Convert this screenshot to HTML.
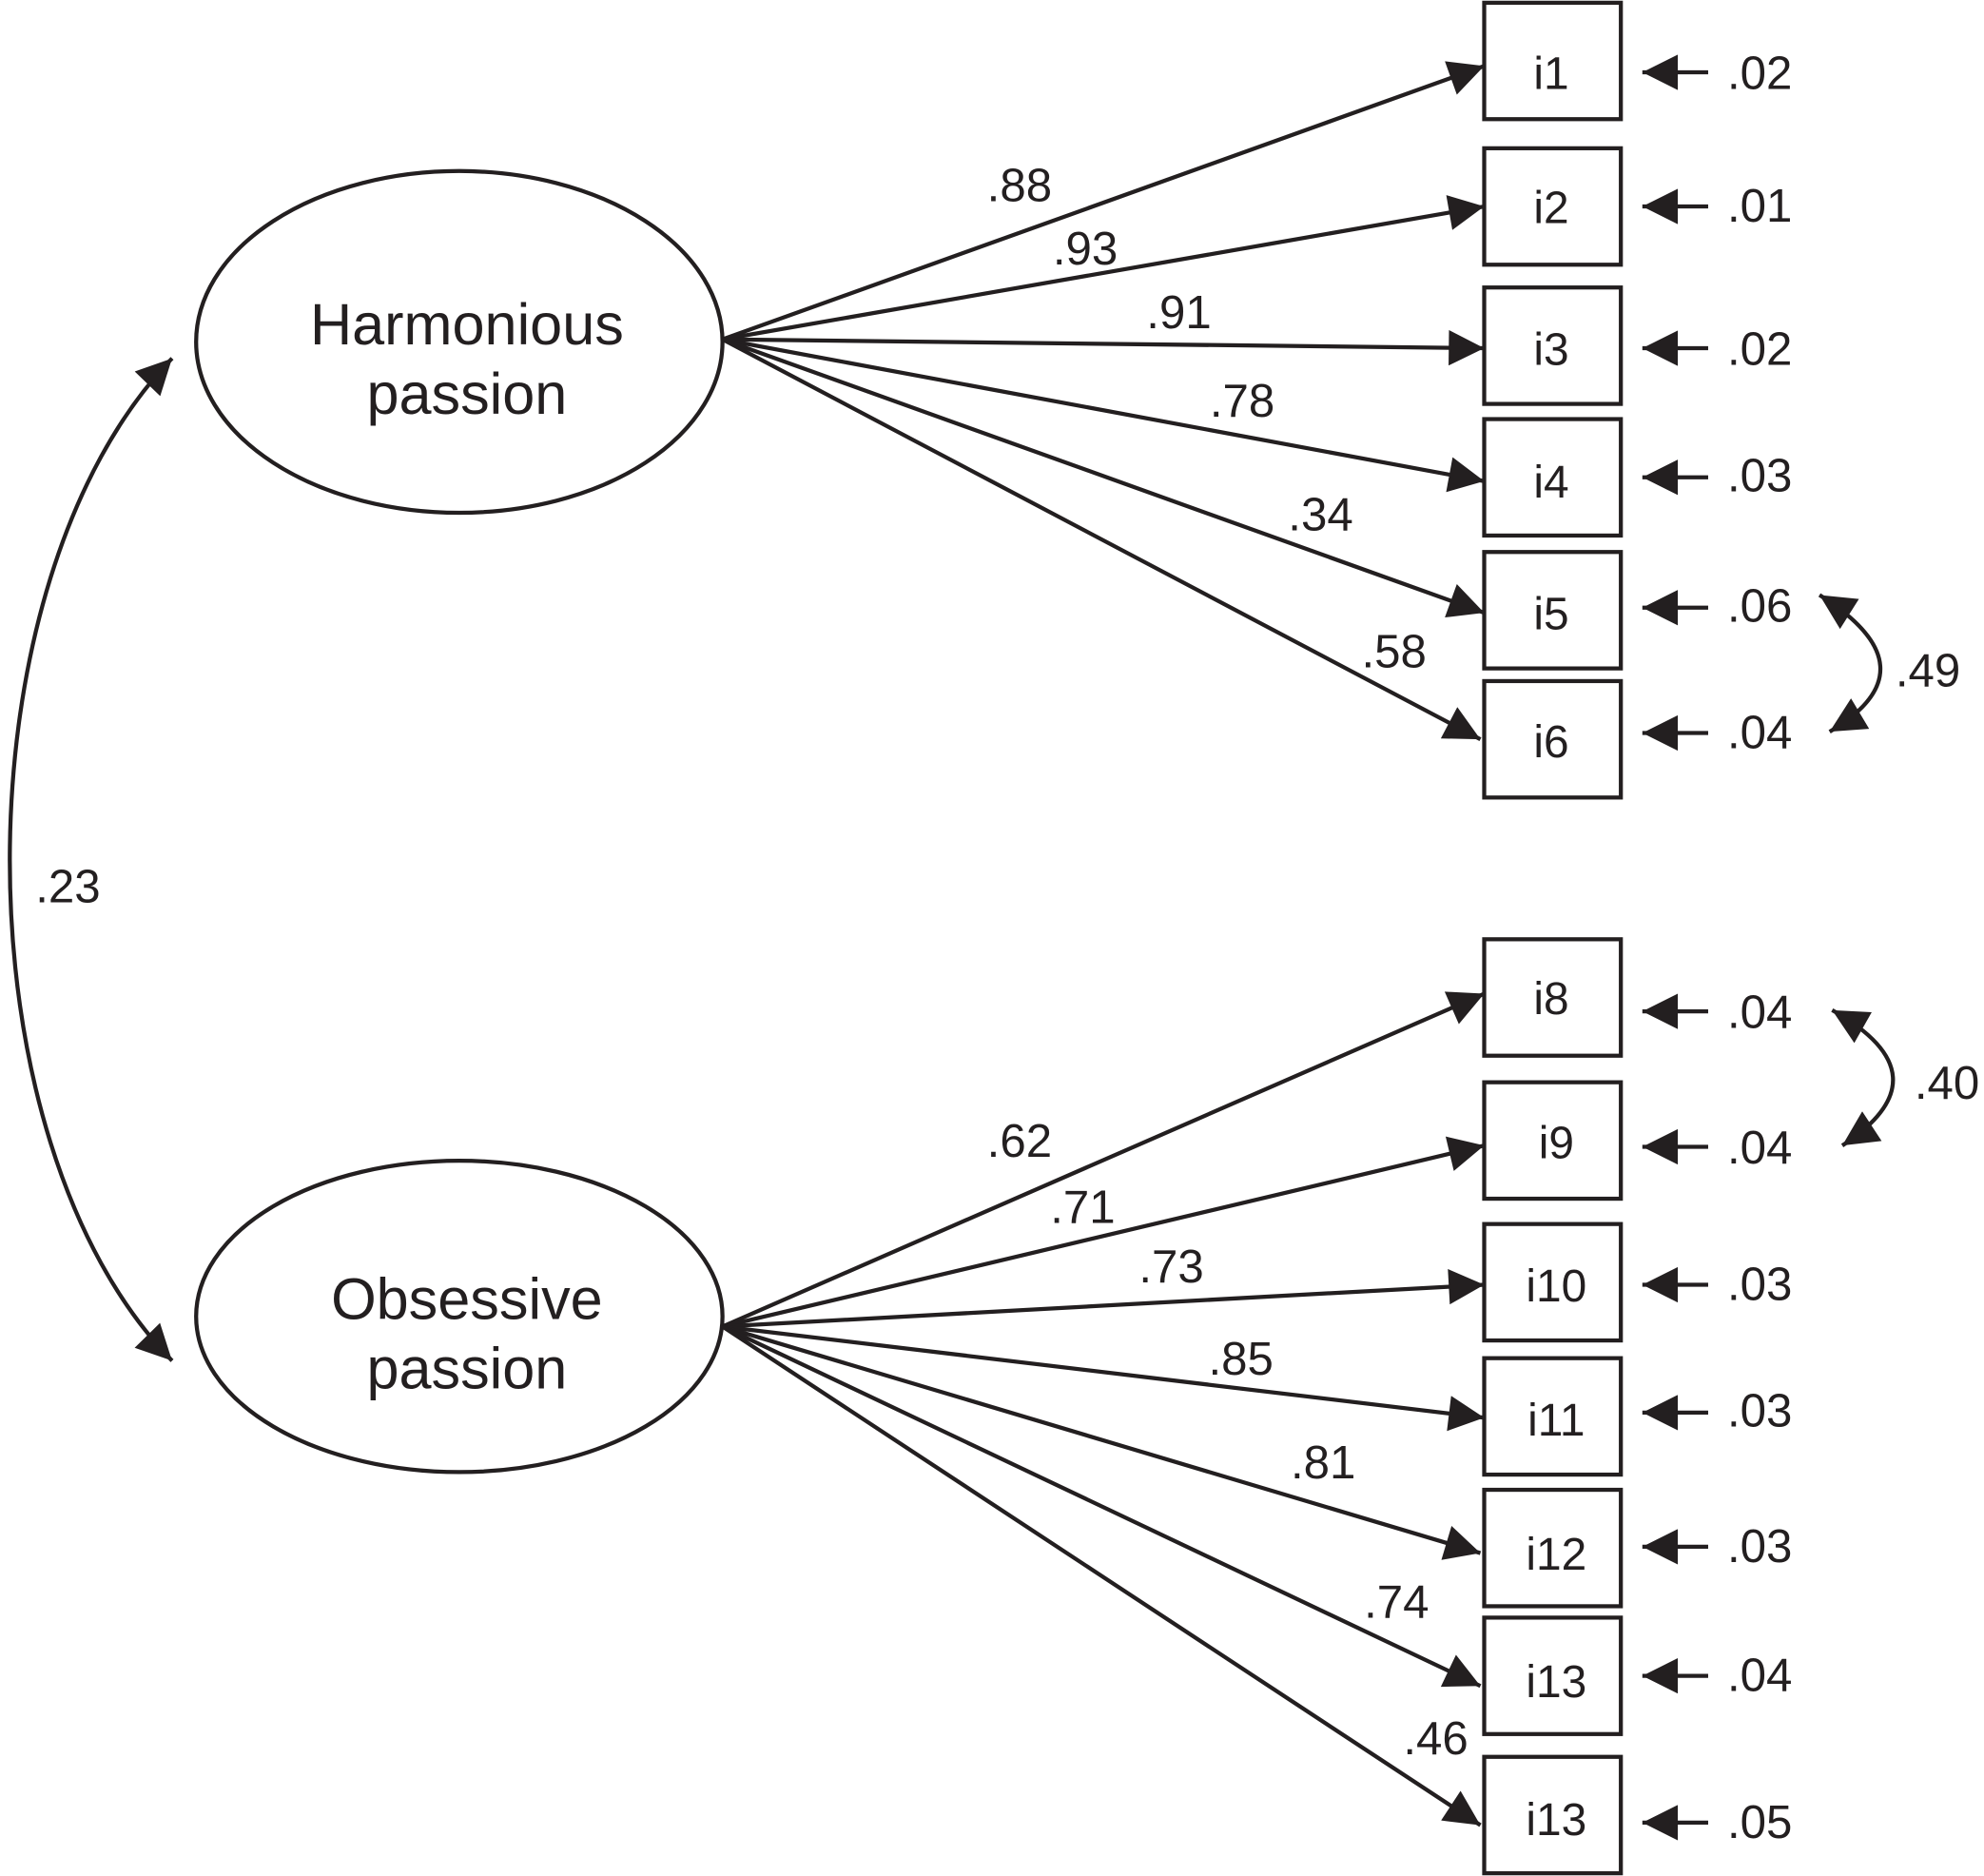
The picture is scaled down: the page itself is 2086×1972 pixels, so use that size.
<!DOCTYPE html>
<html><head><style>html,body{margin:0;padding:0;background:#fff}svg{display:block}</style></head>
<body>
<svg width="2086" height="1972" viewBox="0 0 1568 1482" xmlns="http://www.w3.org/2000/svg" font-family="Liberation Sans, sans-serif" fill="#231f20">
<defs>
<marker id="b" viewBox="0 0 10 10" refX="10" refY="5" markerWidth="30" markerHeight="28" markerUnits="userSpaceOnUse" orient="auto-start-reverse"><path d="M0,0 L10,5 L0,10 z" fill="#231f20"/></marker>
</defs>
<g stroke="#231f20" stroke-width="3.2" fill="none">
<ellipse cx="363" cy="270" rx="208" ry="135"/>
<ellipse cx="363" cy="1040" rx="208" ry="123"/>
<rect x="1173" y="2" width="108" height="92"/>
<rect x="1173" y="117" width="108" height="92"/>
<rect x="1173" y="227" width="108" height="92"/>
<rect x="1173" y="331" width="108" height="92"/>
<rect x="1173" y="436" width="108" height="92"/>
<rect x="1173" y="538" width="108" height="92"/>
<rect x="1173" y="742" width="108" height="92"/>
<rect x="1173" y="855" width="108" height="92"/>
<rect x="1173" y="967" width="108" height="92"/>
<rect x="1173" y="1073" width="108" height="92"/>
<rect x="1173" y="1177" width="108" height="92"/>
<rect x="1173" y="1278" width="108" height="92"/>
<rect x="1173" y="1388" width="108" height="92"/>
<g marker-end="url(#b)">
<line x1="571" y1="268" x2="1173" y2="52"/>
<line x1="571" y1="268" x2="1173" y2="163"/>
<line x1="571" y1="268" x2="1173" y2="275"/>
<line x1="571" y1="268" x2="1173" y2="380"/>
<line x1="571" y1="268" x2="1173" y2="484"/>
<line x1="571" y1="268" x2="1170" y2="584"/>
<line x1="571" y1="1048" x2="1173" y2="785"/>
<line x1="571" y1="1048" x2="1173" y2="905"/>
<line x1="571" y1="1048" x2="1173" y2="1015"/>
<line x1="571" y1="1048" x2="1173" y2="1120"/>
<line x1="571" y1="1048" x2="1170" y2="1227"/>
<line x1="571" y1="1048" x2="1170" y2="1332"/>
<line x1="571" y1="1048" x2="1170" y2="1442"/>
<line x1="1350" y1="57" x2="1298" y2="57"/>
<line x1="1350" y1="163" x2="1298" y2="163"/>
<line x1="1350" y1="275" x2="1298" y2="275"/>
<line x1="1350" y1="377" x2="1298" y2="377"/>
<line x1="1350" y1="480" x2="1298" y2="480"/>
<line x1="1350" y1="579" x2="1298" y2="579"/>
<line x1="1350" y1="799" x2="1298" y2="799"/>
<line x1="1350" y1="906" x2="1298" y2="906"/>
<line x1="1350" y1="1015" x2="1298" y2="1015"/>
<line x1="1350" y1="1116" x2="1298" y2="1116"/>
<line x1="1350" y1="1222" x2="1298" y2="1222"/>
<line x1="1350" y1="1324" x2="1298" y2="1324"/>
<line x1="1350" y1="1440" x2="1298" y2="1440"/>
</g>
<path d="M1438,470 Q1530,528 1446,578" marker-start="url(#b)" marker-end="url(#b)"/>
<path d="M1448,798 Q1540,850 1456,905" marker-start="url(#b)" marker-end="url(#b)"/>
<path d="M136,283 C-35,460 -35,900 136,1075" marker-start="url(#b)" marker-end="url(#b)"/>
</g>
<g font-size="46" text-anchor="middle">
<text x="369" y="272">Harmonious</text>
<text x="369" y="327">passion</text>
<text x="369" y="1042">Obsessive</text>
<text x="369" y="1097">passion</text>
</g>
<g font-size="36" text-anchor="middle">
<text x="1226" y="70">i1</text><text x="1226" y="176">i2</text><text x="1226" y="288">i3</text><text x="1226" y="393">i4</text><text x="1226" y="497">i5</text><text x="1226" y="598">i6</text>
<text x="1226" y="801">i8</text><text x="1230" y="915">i9</text><text x="1230" y="1028">i10</text><text x="1230" y="1134">i11</text><text x="1230" y="1240">i12</text><text x="1230" y="1341">i13</text><text x="1230" y="1450">i13</text>
</g>
<g font-size="37">
<text x="780" y="159">.88</text><text x="832" y="209">.93</text><text x="906" y="259">.91</text><text x="956" y="329">.78</text><text x="1018" y="419">.34</text><text x="1076" y="527">.58</text>
<text x="780" y="914">.62</text><text x="830" y="966">.71</text><text x="900" y="1013">.73</text><text x="955" y="1086">.85</text><text x="1020" y="1168">.81</text><text x="1078" y="1278">.74</text><text x="1109" y="1386">.46</text>
<text x="1365" y="70">.02</text><text x="1365" y="175">.01</text><text x="1365" y="288">.02</text><text x="1365" y="388">.03</text><text x="1365" y="491">.06</text><text x="1365" y="591">.04</text>
<text x="1365" y="812">.04</text><text x="1365" y="919">.04</text><text x="1365" y="1027">.03</text><text x="1365" y="1127">.03</text><text x="1365" y="1234">.03</text><text x="1365" y="1336">.04</text><text x="1365" y="1452">.05</text>
<text x="1498" y="542">.49</text><text x="1513" y="868">.40</text><text x="28" y="713">.23</text>
</g>
</svg>
</body></html>
